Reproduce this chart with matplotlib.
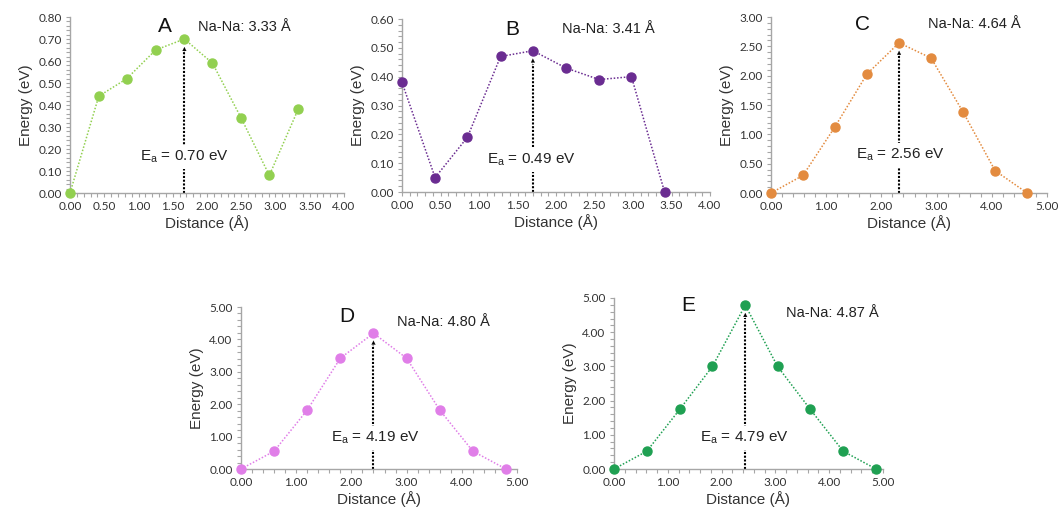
import matplotlib
matplotlib.use("Agg")
import matplotlib.pyplot as plt
from matplotlib.ticker import MultipleLocator, FormatStrFormatter

plt.rcParams['font.family'] = ['Liberation Sans', 'DejaVu Sans']

# ---- data ----
dist_A = [0.00, 0.42, 0.83, 1.25, 1.67, 2.08, 2.50, 2.91, 3.33]
energy_A = [0.00, 0.44, 0.52, 0.65, 0.70, 0.59, 0.34, 0.08, 0.38]

dist_B = [0.00, 0.43, 0.85, 1.28, 1.70, 2.13, 2.56, 2.98, 3.41]
energy_B = [0.38, 0.05, 0.19, 0.47, 0.49, 0.43, 0.39, 0.40, 0.00]

dist_C = [0.00, 0.58, 1.16, 1.74, 2.32, 2.90, 3.48, 4.06, 4.64]
energy_C = [0.00, 0.30, 1.13, 2.03, 2.56, 2.30, 1.38, 0.38, 0.00]

dist_D = [0.00, 0.60, 1.20, 1.80, 2.40, 3.00, 3.60, 4.20, 4.80]
energy_D = [0.00, 0.55, 1.82, 3.42, 4.19, 3.42, 1.82, 0.55, 0.00]

dist_E = [0.00, 0.61, 1.22, 1.83, 2.44, 3.04, 3.65, 4.26, 4.87]
energy_E = [0.00, 0.52, 1.74, 3.00, 4.79, 3.00, 1.74, 0.52, 0.00]

letters = ['A', 'B', 'C', 'D', 'E']
nana_labels = ['Na-Na: 3.33 Å', 'Na-Na: 3.41 Å', 'Na-Na: 4.64 Å', 'Na-Na: 4.80 Å', 'Na-Na: 4.87 Å']
ea_values = [0.70, 0.49, 2.56, 4.19, 4.79]

colors = ['#92D050', '#6A2C91', '#E38B3F', '#E07EE8', '#1FA052']

fig = plt.figure(figsize=(10.62, 5.17), dpi=100)
W, H = 1062, 517

def ax_at(l, r, t, b):
    return fig.add_axes([l / W, 1 - b / H, (r - l) / W, (b - t) / H])

panels = [
    dict(d=dist_A, e=energy_A, box=(70, 344, 17, 193), xlim=4.0, ylim=0.8, xmaj=0.5, xmin=0.1, ymaj=0.1, ymin=0.02,
         letter=(1.39, 0.755), nana=(1.87, 0.755), ea=(1.67, 0.164)),
    dict(d=dist_B, e=energy_B, box=(402, 710, 19, 192), xlim=4.0, ylim=0.6, xmaj=0.5, xmin=0.1, ymaj=0.1, ymin=0.02,
         letter=(1.43, 0.565), nana=(2.08, 0.565), ea=(1.68, 0.111)),
    dict(d=dist_C, e=energy_C, box=(771, 1047, 17, 193), xlim=5.0, ylim=3.0, xmaj=1.0, xmin=0.2, ymaj=0.5, ymin=0.1,
         letter=(1.65, 2.88), nana=(2.84, 2.88), ea=(2.34, 0.65)),
    dict(d=dist_D, e=energy_D, box=(241, 517, 307, 469), xlim=5.0, ylim=5.0, xmaj=1.0, xmin=0.2, ymaj=1.0, ymin=0.2,
         letter=(1.92, 4.72), nana=(2.83, 4.55), ea=(2.43, 0.96)),
    dict(d=dist_E, e=energy_E, box=(614, 883, 298, 469), xlim=5.0, ylim=5.0, xmaj=1.0, xmin=0.2, ymaj=1.0, ymin=0.2,
         letter=(1.38, 4.78), nana=(3.2, 4.55), ea=(2.43, 0.91)),
]

for i, p in enumerate(panels):
    ax = ax_at(*p['box'])
    col = colors[i]
    ax.plot(p['d'], p['e'], linestyle=(0, (1, 1.2)), color=col, linewidth=1.1,
            marker='o', markersize=6.5, markerfacecolor=col, markeredgecolor=col, clip_on=False, zorder=3)
    ax.set_xlim(0, p['xlim'])
    ax.set_ylim(0, p['ylim'])
    ax.xaxis.set_major_locator(MultipleLocator(p['xmaj']))
    ax.xaxis.set_minor_locator(MultipleLocator(p['xmin']))
    ax.yaxis.set_major_locator(MultipleLocator(p['ymaj']))
    ax.yaxis.set_minor_locator(MultipleLocator(p['ymin']))
    ax.xaxis.set_major_formatter(FormatStrFormatter('%.2f'))
    ax.yaxis.set_major_formatter(FormatStrFormatter('%.2f'))
    for s in ['top', 'right']:
        ax.spines[s].set_visible(False)
    for s in ['left', 'bottom']:
        ax.spines[s].set_color('#A6A6A6')
        ax.spines[s].set_linewidth(1.0)
    ax.tick_params(which='both', direction='out', color='#A6A6A6', length=3, width=0.8,
                   labelsize=8.5, labelcolor='#333333', pad=3)
    for lab in ax.get_xticklabels() + ax.get_yticklabels():
        lab.set_family(['Lato', 'DejaVu Sans'])
    ax.set_xlabel('Distance (Å)', fontsize=11, color='#333333', labelpad=2)
    ax.set_ylabel('Energy (eV)', fontsize=11, color='#333333', labelpad=4)

    # peak arrow: dotted shaft + small head just below the peak marker
    k = max(range(len(p['e'])), key=lambda j: p['e'][j])
    xp, yp = p['d'][k], p['e'][k]
    ytip = yp - 0.045 * p['ylim']
    ax.plot([xp, xp], [0, ytip - 0.03 * p['ylim']], linestyle=(0, (1, 0.8)), color='black',
            linewidth=1.5, zorder=2)
    ax.annotate('', xy=(xp, ytip), xytext=(xp, ytip - 0.05 * p['ylim']),
                arrowprops=dict(arrowstyle='-|>', color='black', linewidth=0.1,
                                mutation_scale=7, shrinkA=0, shrinkB=0), zorder=5)
    ax.text(p['ea'][0], p['ea'][1], r'E$_\mathregular{a}$ = %.2f eV' % ea_values[i],
            fontsize=11, color='#222222', ha='center', va='center', zorder=4,
            bbox=dict(facecolor='white', edgecolor='none', pad=2.5))
    ax.text(p['letter'][0], p['letter'][1], letters[i], fontsize=15, color='#111111',
            ha='center', va='center')
    ax.text(p['nana'][0], p['nana'][1], nana_labels[i], fontsize=10.5, color='#222222',
            ha='left', va='center')

fig.savefig('out.png', dpi=100)
